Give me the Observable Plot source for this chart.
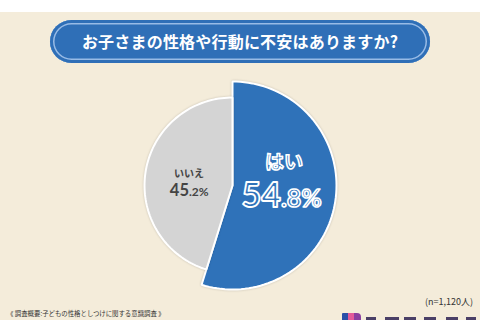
<!DOCTYPE html>
<html><head><meta charset="utf-8">
<script src="https://cdn.jsdelivr.net/npm/d3@7"></script>
<script src="https://cdn.jsdelivr.net/npm/@observablehq/plot@0.6"></script>
<style>
html,body{margin:0;padding:0;}
body{width:480px;height:320px;overflow:hidden;position:relative;background:#f4ecda;font-family:"Noto Sans CJK JP",sans-serif;}
#topstrip{position:absolute;left:0;top:0;width:480px;height:12px;background:#ffffff;}
#title{position:absolute;left:50px;top:20px;width:380px;height:43px;border-radius:22px;background:#2f6fb7;
 box-shadow: inset 0 0 0 3px #2f6fb7, inset 0 0 0 4.5px #98bbe6;color:#fff;font-weight:700;font-size:16px;
 line-height:43px;text-align:center;letter-spacing:0.2px;}
#chart{position:absolute;left:0;top:0;}
#n{position:absolute;right:7px;top:295px;font-size:9px;color:#333;}
#note{position:absolute;left:7px;top:309px;font-size:6.4px;color:#333;white-space:nowrap;}
.lg{position:absolute;top:313px;height:8px;}
</style></head>
<body>
<div id="topstrip"></div>
<div id="chart"></div>
<div id="title"></div>
<div id="n"></div>
<div id="note"></div>
<div class="lg" style="left:342px;width:6px;background:#2a4fa8;border-radius:1px 0 0 0"></div>
<div class="lg" style="left:348px;width:6px;background:#e25a9a;"></div>
<div class="lg" style="left:354px;width:7px;background:#8a3fa0;border-radius:0 4px 0 0"></div>
<div class="lg" style="left:366px;top:317px;width:10px;height:3px;background:#4a3f66;"></div>
<div class="lg" style="left:385px;top:317px;width:14px;height:3px;background:#4a3f66;"></div>
<div class="lg" style="left:404px;top:317px;width:12px;height:3px;background:#4a3f66;"></div>
<div class="lg" style="left:424px;top:317px;width:12px;height:3px;background:#4a3f66;"></div>
<div class="lg" style="left:446px;top:317px;width:12px;height:3px;background:#4a3f66;"></div>
<div class="lg" style="left:466px;top:317px;width:10px;height:3px;background:#4a3f66;"></div>
<script>
const titleText = "お子さまの性格や行動に不安はありますか?";
const categories = ["はい", "いいえ"];
const values = [54.8, 45.2];
const sampleNote = "(n=1,120人)";
const surveyNote = "《 調査概要:子どもの性格としつけに関する意識調査 》";

document.getElementById("title").textContent = titleText;
document.getElementById("n").textContent = sampleNote;
document.getElementById("note").textContent = surveyNote;

const BLUE = "#2f72b9", GREY = "#d4d4d4";
const radiusFrac = [1, 88/104];   // blue slice drawn larger than grey
const arcs = d3.pie().sort(null).value(d => d)(values);

const slicePts = [];
arcs.forEach((a, i) => {
  const r = radiusFrac[i];
  slicePts.push({cat: categories[i], x: 0, y: 0});
  const n = 90;
  for (let k = 0; k <= n; k++) {
    const t = a.startAngle + (a.endAngle - a.startAngle) * k / n;
    slicePts.push({cat: categories[i], x: r * Math.sin(t), y: r * Math.cos(t)});
  }
});

const labels = arcs.map((a, i) => {
  const mid = (a.startAngle + a.endAngle) / 2;
  const r = radiusFrac[i] * 0.5;
  const s = values[i].toFixed(1);
  const [intPart, decPart] = s.split(".");
  return {cat: categories[i], x: r * Math.sin(mid), y: r * Math.cos(mid), intPart, rest: "." + decPart + "%"};
});
const L0 = [labels[0]], L1 = [labels[1]];
const FONT = "Noto Sans CJK JP";
const NUMFONT = "Lato";

const chart = Plot.plot({
  width: 480, height: 320,
  margin: 0,
  style: {background: "transparent", overflow: "visible"},
  x: {domain: [-1, 1], range: [128, 336], axis: null},
  y: {domain: [-1, 1], range: [289, 81], axis: null},
  color: {domain: categories, range: [BLUE, GREY]},
  marks: [
    Plot.line(slicePts, {x: "x", y: "y", z: "cat", fill: "cat", stroke: "white", strokeWidth: 2,
      strokeLinejoin: "miter", curve: "linear-closed"}),
    // はい
    Plot.text(L0, {x: "x", y: "y", text: "cat", dy: -30, fontSize: 19, fontWeight: 700, fontFamily: FONT,
      fill: BLUE, stroke: "white", strokeWidth: 1.6, paintOrder: "normal"}),
    Plot.text(L0, {x: "x", y: "y", text: "intPart", textAnchor: "end", lineAnchor: "bottom", dx: -3, dy: 14,
      fontSize: 34, fontWeight: 700, fontFamily: NUMFONT, fill: BLUE, stroke: "white", strokeWidth: 1.8, paintOrder: "normal"}),
    Plot.text(L0, {x: "x", y: "y", text: "rest", textAnchor: "start", lineAnchor: "bottom", dx: -3, dy: 14,
      fontSize: 25, fontWeight: 700, fontFamily: NUMFONT, fill: BLUE, stroke: "white", strokeWidth: 1.6, paintOrder: "normal"}),
    // いいえ
    Plot.text(L1, {x: "x", y: "y", text: "cat", dy: -5, fontSize: 10, fontWeight: 700, fontFamily: FONT, fill: "#444"}),
    Plot.text(L1, {x: "x", y: "y", text: "intPart", textAnchor: "end", lineAnchor: "bottom", dx: 0, dy: 17,
      fontSize: 16.5, fontWeight: 700, fontFamily: NUMFONT, fill: "#444"}),
    Plot.text(L1, {x: "x", y: "y", text: "rest", textAnchor: "start", lineAnchor: "bottom", dx: 0, dy: 17,
      fontSize: 12, fontWeight: 700, fontFamily: NUMFONT, fill: "#444"})
  ]
});
chart.querySelectorAll("path").forEach(p => p.style.filter = "drop-shadow(0 0 1px rgba(0,0,0,0.18))");
document.getElementById("chart").appendChild(chart);
</script>
</body></html>
